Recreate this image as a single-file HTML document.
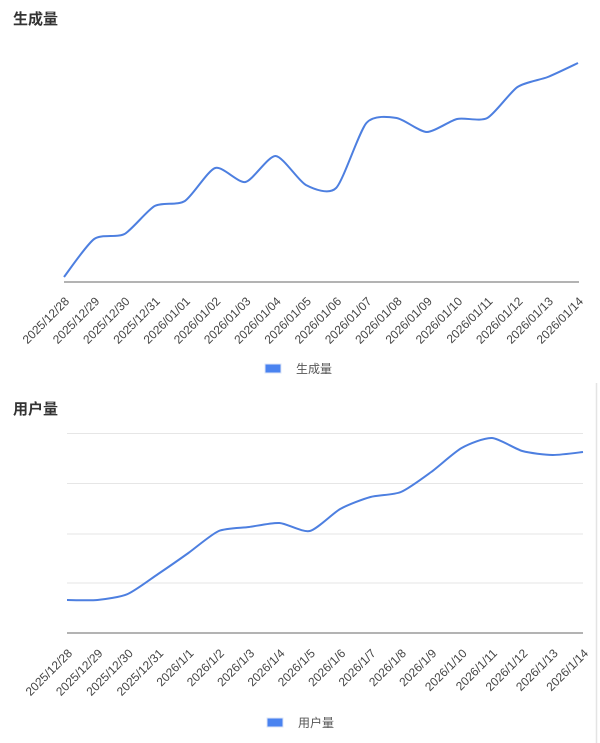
<!DOCTYPE html>
<html>
<head>
<meta charset="utf-8">
<style>
html,body{margin:0;padding:0;background:#fff;}
svg{display:block;}
text{font-family:"Liberation Sans","Noto Sans CJK SC",sans-serif;}
</style>
</head>
<body>
<svg width="600" height="743" viewBox="0 0 600 743" xmlns="http://www.w3.org/2000/svg">
  <!-- Chart 1 -->
  <text x="13" y="24" font-size="15" font-weight="bold" fill="#333">生成量</text>
  <line x1="64" y1="282" x2="579" y2="282" stroke="#9a9a9a" stroke-width="1.5"/>
  <path d="M64,277 C67.6,272.4 86.9,244.2 94.2,239 C101.5,233.8 117.2,238.0 124.5,234 C131.8,230.0 147.4,210.0 154.7,206 C162.0,202.0 177.6,205.6 184.9,201 C192.2,196.4 207.9,170.3 215.2,168 C222.5,165.7 238.1,183.4 245.4,182 C252.7,180.6 268.3,155.6 275.6,156 C282.9,156.4 298.6,181.2 305.9,185 C313.2,188.8 328.8,195.4 336.1,188 C343.4,180.6 359.1,131.4 366.4,123 C373.7,114.6 389.3,116.9 396.6,118 C403.9,119.1 419.5,131.9 426.8,132 C434.1,132.1 449.8,120.7 457.1,119 C464.4,117.3 480.0,121.8 487.3,118 C494.6,114.2 510.2,91.9 517.5,87 C524.8,82.1 540.5,79.9 547.8,77 C555.1,74.1 574.4,64.7 578,63" fill="none" stroke="#4d7fe0" stroke-width="2"/>
  <g font-size="12" fill="#444" text-anchor="end">
    <text transform="translate(70,302) rotate(-45)">2025/12/28</text>
    <text transform="translate(100.2,302) rotate(-45)">2025/12/29</text>
    <text transform="translate(130.5,302) rotate(-45)">2025/12/30</text>
    <text transform="translate(160.7,302) rotate(-45)">2025/12/31</text>
    <text transform="translate(190.9,302) rotate(-45)">2026/01/01</text>
    <text transform="translate(221.2,302) rotate(-45)">2026/01/02</text>
    <text transform="translate(251.4,302) rotate(-45)">2026/01/03</text>
    <text transform="translate(281.6,302) rotate(-45)">2026/01/04</text>
    <text transform="translate(311.9,302) rotate(-45)">2026/01/05</text>
    <text transform="translate(342.1,302) rotate(-45)">2026/01/06</text>
    <text transform="translate(372.4,302) rotate(-45)">2026/01/07</text>
    <text transform="translate(402.6,302) rotate(-45)">2026/01/08</text>
    <text transform="translate(432.8,302) rotate(-45)">2026/01/09</text>
    <text transform="translate(463.1,302) rotate(-45)">2026/01/10</text>
    <text transform="translate(493.3,302) rotate(-45)">2026/01/11</text>
    <text transform="translate(523.5,302) rotate(-45)">2026/01/12</text>
    <text transform="translate(553.8,302) rotate(-45)">2026/01/13</text>
    <text transform="translate(584,302) rotate(-45)">2026/01/14</text>
  </g>
  <rect x="265" y="364" width="16" height="9" fill="#4a83f0" stroke="#dde6f7" stroke-width="1"/>
  <text x="296" y="373" font-size="12" fill="#555">生成量</text>

  <!-- Chart 2 -->
  <line x1="596.5" y1="383" x2="596.5" y2="743" stroke="#e4e4e4" stroke-width="1.5"/>
  <text x="13" y="414" font-size="15" font-weight="bold" fill="#333">用户量</text>
  <g stroke="#e6e6e6" stroke-width="1">
    <line x1="67" y1="433.5" x2="583" y2="433.5"/>
    <line x1="67" y1="483.5" x2="583" y2="483.5"/>
    <line x1="67" y1="534" x2="583" y2="534"/>
    <line x1="67" y1="583" x2="583" y2="583"/>
  </g>
  <line x1="67" y1="633" x2="583" y2="633" stroke="#9a9a9a" stroke-width="1.5"/>
  <path d="M67,600 C70.6,600 90.1,600.7 97.4,600 C104.7,599.3 120.4,597.1 127.7,594 C135.0,590.9 150.8,578.9 158.1,574 C165.4,569.1 181.1,558.2 188.4,553 C195.7,547.8 211.5,534.1 218.8,531 C226.1,527.9 241.8,528.0 249.1,527 C256.4,526.0 272.2,522.5 279.5,523 C286.8,523.5 302.5,532.7 309.8,531 C317.1,529.3 332.9,513.1 340.2,509 C347.5,504.9 363.2,499.0 370.5,497 C377.8,495.0 393.6,495.0 400.9,492 C408.2,489.0 423.9,477.3 431.2,472 C438.5,466.7 454.3,452.1 461.6,448 C468.9,443.9 484.6,437.6 491.9,438 C499.2,438.4 515.0,449.0 522.3,451 C529.6,453.0 545.3,454.9 552.6,455 C559.9,455.1 579.4,452.4 583,452" fill="none" stroke="#4d7fe0" stroke-width="2"/>
  <g font-size="12" fill="#444" text-anchor="end">
    <text transform="translate(73,654) rotate(-45)">2025/12/28</text>
    <text transform="translate(103.4,654) rotate(-45)">2025/12/29</text>
    <text transform="translate(133.7,654) rotate(-45)">2025/12/30</text>
    <text transform="translate(164.1,654) rotate(-45)">2025/12/31</text>
    <text transform="translate(194.4,654) rotate(-45)">2026/1/1</text>
    <text transform="translate(224.8,654) rotate(-45)">2026/1/2</text>
    <text transform="translate(255.1,654) rotate(-45)">2026/1/3</text>
    <text transform="translate(285.5,654) rotate(-45)">2026/1/4</text>
    <text transform="translate(315.8,654) rotate(-45)">2026/1/5</text>
    <text transform="translate(346.2,654) rotate(-45)">2026/1/6</text>
    <text transform="translate(376.5,654) rotate(-45)">2026/1/7</text>
    <text transform="translate(406.9,654) rotate(-45)">2026/1/8</text>
    <text transform="translate(437.2,654) rotate(-45)">2026/1/9</text>
    <text transform="translate(467.6,654) rotate(-45)">2026/1/10</text>
    <text transform="translate(497.9,654) rotate(-45)">2026/1/11</text>
    <text transform="translate(528.3,654) rotate(-45)">2026/1/12</text>
    <text transform="translate(558.6,654) rotate(-45)">2026/1/13</text>
    <text transform="translate(589,654) rotate(-45)">2026/1/14</text>
  </g>
  <rect x="267" y="718" width="16" height="9" fill="#4a83f0" stroke="#dde6f7" stroke-width="1"/>
  <text x="298" y="727" font-size="12" fill="#555">用户量</text>
</svg>
</body>
</html>
